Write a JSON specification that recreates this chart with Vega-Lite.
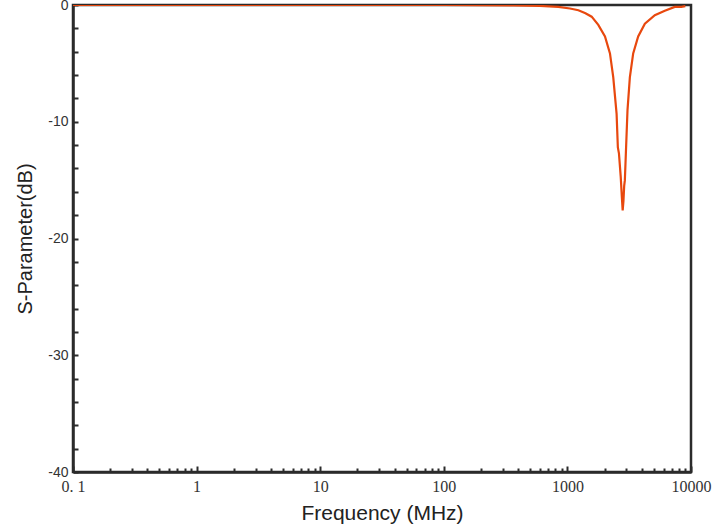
{
  "$schema": "https://vega.github.io/schema/vega-lite/v6.json",
  "width": 618,
  "height": 467,
  "autosize": {"type": "none"},
  "padding": {"left": 73, "top": 5, "right": 34, "bottom": 56},
  "background": "white",
  "config": {
    "view": {"stroke": "#2b2b2b", "strokeWidth": 2.5},
    "axis": {"grid": false, "domainColor": "#2b2b2b", "domainWidth": 2.5, "tickColor": "#2b2b2b", "tickWidth": 2}
  },
  "data": {
    "values": [
      {"f": 0.1, "s": 0},
      {"f": 1, "s": 0},
      {"f": 10, "s": 0},
      {"f": 100, "s": 0},
      {"f": 367, "s": -0.03},
      {"f": 600, "s": -0.08},
      {"f": 845, "s": -0.16},
      {"f": 1050, "s": -0.3},
      {"f": 1227, "s": -0.45},
      {"f": 1400, "s": -0.7},
      {"f": 1571, "s": -1.0},
      {"f": 1778, "s": -1.7},
      {"f": 2014, "s": -2.7},
      {"f": 2210, "s": -4.15},
      {"f": 2350, "s": -6.2},
      {"f": 2500, "s": -9.3},
      {"f": 2560, "s": -12.2},
      {"f": 2612, "s": -12.7},
      {"f": 2700, "s": -14.7},
      {"f": 2760, "s": -16.5},
      {"f": 2800, "s": -17.6},
      {"f": 2840, "s": -16.8},
      {"f": 2880, "s": -15.5},
      {"f": 2917, "s": -15.0},
      {"f": 2972, "s": -12.7},
      {"f": 3064, "s": -9.0},
      {"f": 3201, "s": -6.2},
      {"f": 3406, "s": -4.15},
      {"f": 3738, "s": -2.7},
      {"f": 4235, "s": -1.6},
      {"f": 5097, "s": -0.87},
      {"f": 6141, "s": -0.5},
      {"f": 7386, "s": -0.16},
      {"f": 8360, "s": -0.16},
      {"f": 9000, "s": -0.1}
    ]
  },
  "mark": {"type": "line", "color": "#e8480e", "strokeWidth": 2.2, "clip": true},
  "encoding": {
    "x": {
      "field": "f",
      "type": "quantitative",
      "scale": {"type": "log", "domain": [0.1, 10000], "nice": false},
      "axis": {
        "title": "Frequency (MHz)",
        "titleFont": "Liberation Sans",
        "titleFontSize": 21,
        "titleFontWeight": "normal",
        "titleColor": "#222222",
        "titlePadding": 6,
        "values": [0.1,0.2,0.3,0.4,0.5,0.6,0.7,0.8,0.9,1,2,3,4,5,6,7,8,9,10,20,30,40,50,60,70,80,90,100,200,300,400,500,600,700,800,900,1000,2000,3000,4000,5000,6000,7000,8000,9000,10000],
        "labelExpr": "datum.value == 0.1 ? '0. 1' : (indexof([1,10,100,1000,10000], datum.value) >= 0 ? format(datum.value, 'd') : '')",
        "labelFont": "Liberation Serif",
        "labelFontSize": 16,
        "labelColor": "#333333",
        "labelPadding": 12,
        "labelFlush": false,
        "labelOverlap": false,
        "tickSize": {"condition": {"test": "indexof([0.1,1,10,100,1000,10000], datum.value) >= 0", "value": -6}, "value": -4}
      }
    },
    "y": {
      "field": "s",
      "type": "quantitative",
      "scale": {"domain": [-40, 0], "nice": false},
      "axis": {
        "title": "S-Parameter(dB)",
        "titleFont": "Liberation Sans",
        "titleFontSize": 20,
        "titleFontWeight": "normal",
        "titleColor": "#222222",
        "titlePadding": 12,
        "values": [0,-2,-4,-6,-8,-10,-12,-14,-16,-18,-20,-22,-24,-26,-28,-30,-32,-34,-36,-38,-40],
        "labelExpr": "datum.value % 10 == 0 ? '' + datum.value : ''",
        "labelFont": "Liberation Sans",
        "labelFontSize": 14,
        "labelColor": "#333333",
        "labelPadding": 10,
        "labelFlush": false,
        "labelOverlap": false,
        "tickSize": -5
      }
    }
  }
}
